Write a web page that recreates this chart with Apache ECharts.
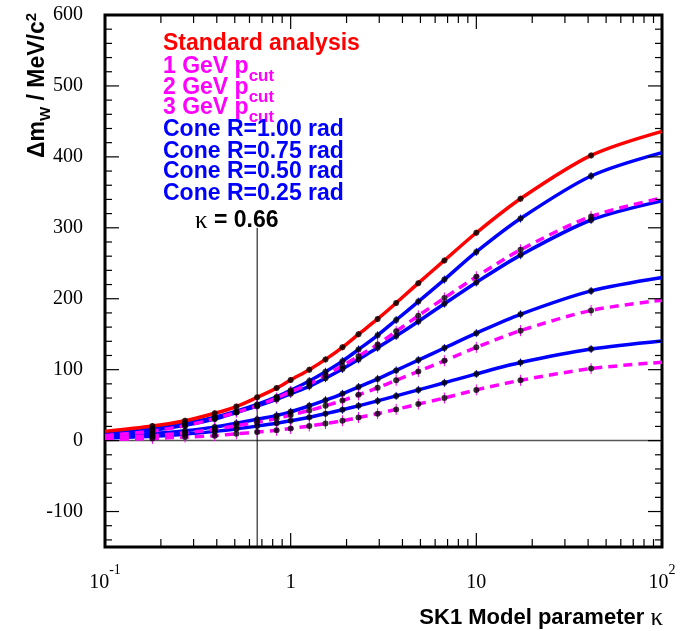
<!DOCTYPE html>
<html><head><meta charset="utf-8">
<script src="https://cdn.jsdelivr.net/npm/echarts@6/dist/echarts.min.js"></script>
<style>html,body{margin:0;padding:0;background:#fff}#c{width:684px;height:631px}</style>
</head><body><div id="c"></div>
<script>
// ---- data ----
const kappa      = [0.1, 0.18, 0.27, 0.39, 0.51, 0.66, 0.84, 1.0, 1.26, 1.54, 1.9, 2.32, 2.94, 3.7, 4.87, 6.73, 10, 17.3, 41.5, 100];
const stdAnalysis= [13, 20.5, 28, 38.5, 48, 61, 74, 85.5, 100, 114.5, 131.5, 150, 171.5, 194, 222, 254, 293, 341, 402, 436];
const cone100    = [11.5, 17, 24.5, 33, 41.5, 51, 61.5, 71, 84, 97, 112, 128.5, 148.5, 170, 196, 227, 266, 313, 373, 406];
const cone075    = [9, 14.5, 21.5, 30.5, 39.5, 48.5, 58, 66, 76.5, 88, 101, 114.5, 131, 147.5, 168, 193, 223, 261.5, 311, 338];
const cone050    = [6.5, 10, 14, 19, 24.5, 30, 35.5, 40.5, 49, 57, 66, 75.5, 87, 99, 113.5, 130.5, 151.5, 178, 211, 230];
const cone025    = [3.5, 6, 9, 13, 16.5, 20.5, 24.5, 28, 33, 38, 43.5, 49, 56, 63, 71.5, 81.5, 94, 110, 129, 140.5];
const pcut1      = [7, 13.5, 21, 31, 40, 49, 60, 69, 80, 92, 105.5, 119, 135.5, 154, 176, 201, 231, 269, 316, 342];
const pcut2      = [4, 7, 11, 16, 21, 26, 31, 36, 42.5, 49, 56.5, 64.5, 74.5, 85, 97.5, 112.5, 131.5, 155, 183.5, 198];
const pcut3      = [1.5, 3, 5, 7, 9.5, 12, 14.5, 17, 20.5, 24, 28, 32.5, 38, 44, 51.5, 60, 71.5, 85, 101.5, 110.5];
const kappaCut = 0.66, kappaLineTop = 300;
const xMajorTicks = [1, 10];
const xMinorTicks = [0.2,0.3,0.4,0.5,0.6,0.7,0.8,0.9, 2,3,4,5,6,7,8,9, 20,30,40,50,60,70,80,90];
const yMajorTicks = [-100, 0, 100, 200, 300, 400, 500];
const yMinorTicks = [-140,-120,-80,-60,-40,-20,20,40,60,80,120,140,160,180,220,240,260,280,320,340,360,380,420,440,460,480,520,540,560,580];
const xTickLabels = ['{b|10}{s|-1}', '{b|1}', '{b|10}', '{b|10}{s|2}'];
const legendLabels = ['Standard analysis', '1 GeV p{sub|cut}', '2 GeV p{sub|cut}', '3 GeV p{sub|cut}',
  'Cone R=1.00 rad', 'Cone R=0.75 rad', 'Cone R=0.50 rad', 'Cone R=0.25 rad'];

// ---- styles / layout ----
const RED = '#ff0000', MAG = '#ff00ff', BLUE = '#0000ff';
const legendColors = [RED, MAG, MAG, MAG, BLUE, BLUE, BLUE, BLUE];
const legendY = [43.7, 66.5, 87.5, 107.5, 130, 151.5, 172, 193.5];
const curves = [
  {d: cone100, c: BLUE, dash: false, eb: 1.5}, {d: cone075, c: BLUE, dash: false, eb: 1.5},
  {d: cone050, c: BLUE, dash: false, eb: 1.5}, {d: cone025, c: BLUE, dash: false, eb: 1.5},
  {d: pcut1, c: MAG, dash: true, eb: 3}, {d: pcut2, c: MAG, dash: true, eb: 3}, {d: pcut3, c: MAG, dash: true, eb: 3},
  {d: stdAnalysis, c: RED, dash: false, eb: 0.5}
];

const SANS = '"Liberation Sans", Arial, sans-serif';
const SERIF = '"Liberation Serif", "Times New Roman", serif';

const series = [];
series.push({type:'line', data:[[0.1,0],[100,0]], symbol:'none', silent:true,
  lineStyle:{color:'#555', width:1.5}, z:1});
series.push({type:'line', data:[[kappaCut,-150],[kappaCut,kappaLineTop]], symbol:'none', silent:true,
  lineStyle:{color:'#000', width:1}, z:1});
curves.forEach(c => series.push({
  type:'line', data: kappa.map((k,i)=>[k, c.d[i]]), smooth:0.3, symbol:'none', silent:true,
  lineStyle:{color:c.c, width:3.5, type: c.dash ? [9,6] : 'solid'}, z:2
}));
// small vertical error-bar stubs at the measured points
curves.forEach(c => series.push({
  type:'custom', silent:true, z:3,
  data: kappa.slice(1,-1).map((k,i)=>[k, c.d[i+1]]),
  renderItem:(params, api) => {
    const p = api.coord([api.value(0), api.value(1)]);
    return {type:'line', shape:{x1:p[0], y1:p[1]-c.eb-2.5, x2:p[0], y2:p[1]+c.eb+2.5},
      style:{stroke:c.c, lineWidth:1}};
  }
}));
curves.forEach(c => series.push({
  type:'scatter', data: kappa.slice(1,-1).map((k,i)=>[k, c.d[i+1]]), symbolSize:6, silent:true,
  itemStyle:{color:'#000'}, z:4
}));
// axis ticks (drawn through the axis scales)
series.push({type:'custom', silent:true, z:6,
  data: xMajorTicks.map(v=>[v,0,14]).concat(xMinorTicks.map(v=>[v,0,8])),
  renderItem:(params, api) => {
    const cs = params.coordSys; const px = api.coord([api.value(0), 0])[0]; const len = api.value(2);
    const b = cs.y + cs.height, t = cs.y;
    return {type:'group', children:[
      {type:'line', shape:{x1:px, y1:b, x2:px, y2:b-len}, style:{stroke:'#000', lineWidth:1.2}},
      {type:'line', shape:{x1:px, y1:t, x2:px, y2:t+len}, style:{stroke:'#000', lineWidth:1.2}}
    ]};
  }});
series.push({type:'custom', silent:true, z:6,
  data: yMajorTicks.map(v=>[1,v,14]).concat(yMinorTicks.map(v=>[1,v,7])),
  renderItem:(params, api) => {
    const cs = params.coordSys; const py = api.coord([1, api.value(1)])[1]; const len = api.value(2);
    const l = cs.x, r = cs.x + cs.width;
    return {type:'group', children:[
      {type:'line', shape:{x1:l, y1:py, x2:l+len, y2:py}, style:{stroke:'#000', lineWidth:1.2}},
      {type:'line', shape:{x1:r, y1:py, x2:r-len, y2:py}, style:{stroke:'#000', lineWidth:1.2}}
    ]};
  }});

const graphics = legendLabels.map((t,i) => ({
  type:'text', x:163, y:legendY[i], z:10, silent:true,
  style:{text:t, fill:legendColors[i], font:'bold 23px ' + SANS, align:'left', verticalAlign:'middle',
    rich:{sub:{font:'bold 17px ' + SANS, fill:legendColors[i], padding:[20,0,0,0]}}}
}));
graphics.push({type:'text', x:195, y:221, z:10, silent:true,
  style:{text:'{k|κ} = 0.66', fill:'#000', font:'bold 23px ' + SANS, align:'left', verticalAlign:'middle',
    rich:{k:{font:'25px ' + SERIF, fill:'#000'}}}});
graphics.push({type:'text', x:663, y:618, z:10, silent:true,
  style:{text:'SK1 Model parameter {k|κ}', fill:'#000', font:'bold 22px ' + SANS, align:'right', verticalAlign:'middle',
    rich:{k:{font:'25px ' + SERIF, fill:'#000'}}}});
graphics.push({type:'text', x:38, y:158, rotation:Math.PI/2, z:10, silent:true,
  style:{text:'Δm{sub|W} / MeV/c{sup|2}', fill:'#000', font:'bold 23px ' + SANS, align:'left', verticalAlign:'middle',
    rich:{sub:{font:'bold 15px ' + SANS, fill:'#000', padding:[16,0,0,0]},
          sup:{font:'bold 15px ' + SANS, fill:'#000', padding:[0,0,12,0]}}}});

const chart = echarts.init(document.getElementById('c'), null, {renderer:'canvas'});
chart.setOption({
  animation:false,
  backgroundColor:'#fff',
  grid:{left:105, right:22, top:15, bottom:84, show:true, borderColor:'#000', borderWidth:3, backgroundColor:'transparent'},
  xAxis:{type:'log', logBase:10, min:0.1, max:100,
    axisLine:{show:false}, axisTick:{show:false}, splitLine:{show:false}, minorTick:{show:false},
    axisLabel:{margin:16, lineHeight:40, color:'#000',
      formatter:(v)=> xTickLabels[Math.round(Math.log10(v)) + 1] || '',
      rich:{b:{fontFamily:SERIF, fontSize:20, color:'#000', lineHeight:40},
            s:{fontFamily:SERIF, fontSize:14, color:'#000', padding:[0,0,25,0], lineHeight:40}}}},
  yAxis:{type:'value', min:-150, max:600, interval:50,
    axisLine:{show:false}, axisTick:{show:false}, splitLine:{show:false},
    axisLabel:{margin:22, color:'#000', fontFamily:SERIF, fontSize:20,
      formatter:(v)=> (v % 100 === 0 ? String(v) : '')}},
  graphic:graphics,
  series:series
});
</script></body></html>
